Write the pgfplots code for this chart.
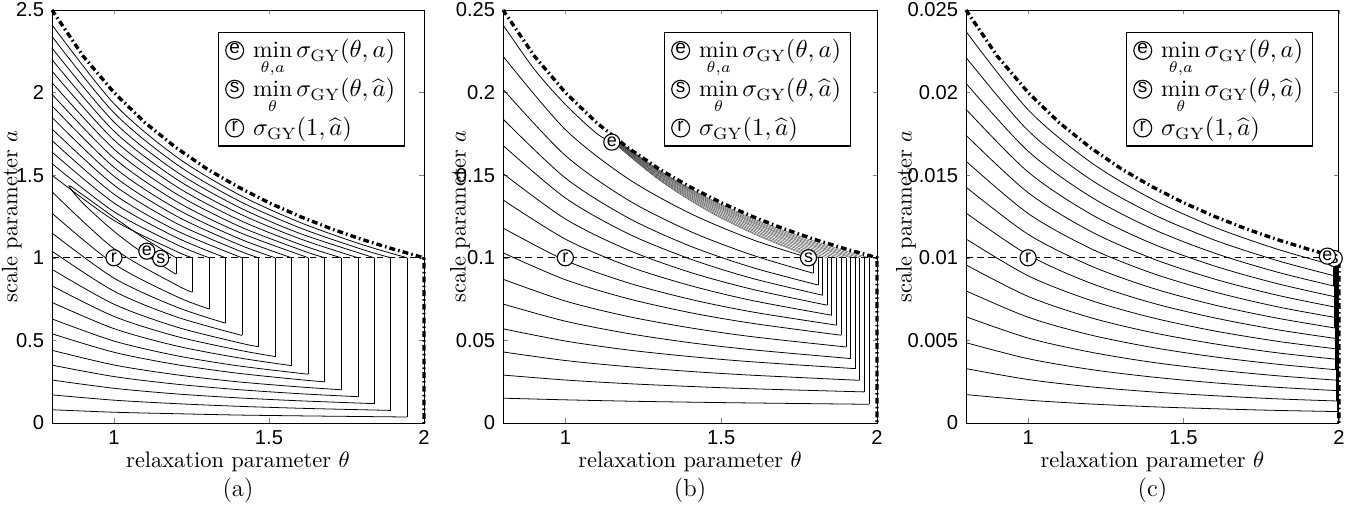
\documentclass[border=0pt]{standalone}
\usepackage{fontspec}
\newfontfamily\hv{Liberation Sans}
\usepackage{pgfplots}
\pgfplotsset{compat=1.18}
\usetikzlibrary{plotmarks}

\pgfplotsset{
  panel/.style={
    scale only axis, height=184.4pt,
    xmin=0.8, xmax=2, ymin=0,
    xtick={1,1.5,2},
    tick align=inside, major tick length=2pt,
    scaled ticks=false,
    /pgf/number format/fixed, /pgf/number format/precision=3,
    /pgf/number format/assume math mode=true,
    tick label style={font=\hv\fontsize{9}{9}\selectfont},
    xlabel={relaxation parameter $\theta$},
    ylabel={scale parameter $a$},
    label style={font=\fontsize{10}{12}\selectfont},
    xlabel style={at={(axis description cs:0.5,0)}, anchor=center, yshift=-17.4pt},
    clip=false,
    axis line style={line width=0.4pt},
    legend style={anchor=north west, draw=black, line width=0.5pt, fill=white,
      font=\fontsize{10.5}{12}\selectfont, row sep=3.6pt, inner xsep=2pt, inner ysep=1.2pt},
    legend cell align=left,
  },
  ct/.style={black, smooth, line width=0.35pt, forget plot},
  fan/.style={black!85, smooth, line width=0.15pt, forget plot},
  vt/.style={black, line width=0.35pt, unbounded coords=jump, forget plot},
  bd/.style={black, line width=1.5pt, dash pattern=on 2.6pt off 1.4pt on 0.7pt off 1.4pt, forget plot},
  hl/.style={black, line width=0.45pt, dash pattern=on 3pt off 2pt, forget plot},
  mk/.style={only marks, mark=*, mark size=3.6pt, mark options={fill=white, draw=black, line width=0.5pt}, forget plot},
  lt/.style={only marks, mark=text, text mark={\hv\fontsize{8}{8}\selectfont #1}, forget plot},
  li/.style={legend image code/.code={
      \path (0pt,0) (11pt,0);
      \draw[fill=white, line width=0.5pt] (5pt,0) circle (4pt);
      \node[font=\hv\fontsize{8.5}{8.5}\selectfont, inner sep=0pt, anchor=center] at (5pt,0) {#1};}},
}

\begin{document}
\begin{tikzpicture}
\useasboundingbox (0,0) rectangle (605pt,227.7pt);

% ---------------- (a)
\begin{axis}[panel, at={(23.2pt,38.85pt)}, anchor=south west, width=166.1pt,
  ymax=2.5, ytick={0,0.5,1,1.5,2,2.5},
  ylabel style={at={(axis description cs:-0.108,0.5)}, anchor=center},
  legend style={at={(0.446,0.947)}}]
% lower branches
\addplot[ct] coordinates {(0.8,1.40)(1.0,1.055)(1.2,0.837)(1.253,0.792)};
\addplot[ct] coordinates {(0.8,1.27)(1.0,0.963)(1.2,0.767)(1.307,0.690)};
\addplot[ct] coordinates {(0.8,1.15)(1.0,0.877)(1.2,0.703)(1.36,0.604)};
\addplot[ct] coordinates {(0.8,1.04)(1.0,0.798)(1.2,0.643)(1.413,0.530)};
\addplot[ct] coordinates {(0.8,0.93)(1.0,0.719)(1.2,0.582)(1.4,0.487)(1.467,0.461)};
\addplot[ct] coordinates {(0.8,0.83)(1.0,0.645)(1.2,0.525)(1.4,0.442)(1.52,0.402)};
\addplot[ct] coordinates {(0.8,0.73)(1.0,0.571)(1.2,0.467)(1.4,0.395)(1.573,0.347)};
\addplot[ct] coordinates {(0.8,0.63)(1.0,0.496)(1.2,0.408)(1.4,0.346)(1.627,0.295)};
\addplot[ct] coordinates {(0.8,0.54)(1.0,0.428)(1.2,0.354)(1.4,0.301)(1.6,0.262)(1.68,0.249)};
\addplot[ct] coordinates {(0.8,0.44)(1.0,0.351)(1.2,0.292)(1.4,0.249)(1.6,0.218)(1.733,0.201)};
\addplot[ct] coordinates {(0.8,0.35)(1.0,0.281)(1.2,0.235)(1.4,0.202)(1.6,0.177)(1.787,0.159)};
\addplot[ct] coordinates {(0.8,0.26)(1.0,0.210)(1.2,0.176)(1.4,0.152)(1.6,0.134)(1.84,0.117)};
\addplot[ct] coordinates {(0.8,0.17)(1.0,0.138)(1.2,0.117)(1.4,0.101)(1.6,0.089)(1.8,0.080)(1.893,0.076)};
\addplot[ct] coordinates {(0.8,0.08)(1.0,0.065)(1.2,0.056)(1.4,0.048)(1.6,0.043)(1.8,0.039)(1.946,0.036)};
% upper branches
\addplot[ct] coordinates {(0.8,1.50)(1.0,1.226)(1.2,1.040)(1.253,1.0)};
\addplot[ct] coordinates {(0.8,1.57)(1.0,1.279)(1.2,1.082)(1.307,1.0)};
\addplot[ct] coordinates {(0.8,1.64)(1.0,1.332)(1.2,1.124)(1.36,1.0)};
\addplot[ct] coordinates {(0.8,1.71)(1.0,1.385)(1.2,1.166)(1.413,1.0)};
\addplot[ct] coordinates {(0.8,1.78)(1.0,1.440)(1.2,1.210)(1.4,1.045)(1.467,1.0)};
\addplot[ct] coordinates {(0.8,1.85)(1.0,1.494)(1.2,1.254)(1.4,1.082)(1.52,1.0)};
\addplot[ct] coordinates {(0.8,1.92)(1.0,1.548)(1.2,1.298)(1.4,1.119)(1.573,1.0)};
\addplot[ct] coordinates {(0.8,1.99)(1.0,1.603)(1.2,1.343)(1.4,1.157)(1.627,1.0)};
\addplot[ct] coordinates {(0.8,2.06)(1.0,1.658)(1.2,1.388)(1.4,1.194)(1.6,1.049)(1.68,1.0)};
\addplot[ct] coordinates {(0.8,2.13)(1.0,1.713)(1.2,1.433)(1.4,1.232)(1.6,1.081)(1.733,1.0)};
\addplot[ct] coordinates {(0.8,2.20)(1.0,1.767)(1.2,1.478)(1.4,1.271)(1.6,1.115)(1.787,1.0)};
\addplot[ct] coordinates {(0.8,2.27)(1.0,1.822)(1.2,1.523)(1.4,1.309)(1.6,1.147)(1.84,1.0)};
\addplot[ct] coordinates {(0.8,2.34)(1.0,1.878)(1.2,1.568)(1.4,1.347)(1.6,1.181)(1.8,1.051)(1.893,1.0)};
\addplot[ct] coordinates {(0.8,2.41)(1.0,1.933)(1.2,1.613)(1.4,1.385)(1.6,1.214)(1.8,1.080)(1.946,1.0)};
% innermost contour
\addplot[ct] coordinates {(1.2,0.90)(1.1,1.02)(1.0,1.16)(0.9,1.33)(0.855,1.435)(0.9,1.38)(1.0,1.245)(1.1,1.115)(1.2,1.0)};
% vertical parts
\addplot[vt] coordinates {
(1.2,0.9)(1.2,1)(1.2,nan)
(1.253,0.792)(1.253,1)(1.253,nan)
(1.307,0.690)(1.307,1)(1.307,nan)
(1.36,0.604)(1.36,1)(1.36,nan)
(1.413,0.530)(1.413,1)(1.413,nan)
(1.467,0.461)(1.467,1)(1.467,nan)
(1.52,0.402)(1.52,1)(1.52,nan)
(1.573,0.347)(1.573,1)(1.573,nan)
(1.627,0.295)(1.627,1)(1.627,nan)
(1.68,0.249)(1.68,1)(1.68,nan)
(1.733,0.201)(1.733,1)(1.733,nan)
(1.787,0.159)(1.787,1)(1.787,nan)
(1.84,0.117)(1.84,1)(1.84,nan)
(1.893,0.076)(1.893,1)(1.893,nan)
(1.946,0.036)(1.946,1)};
\addplot[hl] coordinates {(0.8,1)(2,1)};
\addplot[bd] coordinates {(0.8,2.5)(0.9,2.222)(1.0,2.0)(1.1,1.818)(1.2,1.667)(1.3,1.538)(1.4,1.429)(1.5,1.333)(1.6,1.25)(1.7,1.176)(1.8,1.111)(1.9,1.053)(2.0,1.0)(2.0,0)};
\addplot[mk] coordinates {(1.0,1.0)};
\addplot[lt=r] coordinates {(1.0,1.0)};
\addplot[mk] coordinates {(1.151,0.996)};
\addplot[lt=s] coordinates {(1.151,0.996)};
\addplot[mk] coordinates {(1.106,1.04)};
\addplot[lt=e] coordinates {(1.106,1.04)};
\addlegendimage{li=e}
\addlegendentry{$\displaystyle\min_{\theta,a}\sigma_{\mathrm{GY}}(\theta,a)$}
\addlegendimage{li=s}
\addlegendentry{$\displaystyle\min_{\theta}\sigma_{\mathrm{GY}}(\theta,\widehat{a})$}
\addlegendimage{li=r}
\addlegendentry{$\sigma_{\mathrm{GY}}(1,\widehat{a})$}
\node[font=\fontsize{11}{13}\selectfont, yshift=-30pt] at (rel axis cs:0.5,0) {(a)};
\end{axis}

% ---------------- (b)
\begin{axis}[panel, at={(224.6pt,38.85pt)}, anchor=south west, width=167pt,
  ymax=0.25, ytick={0,0.05,0.1,0.15,0.2,0.25},
  ylabel style={at={(axis description cs:-0.115,0.5)}, anchor=center},
  legend style={at={(0.43,0.947)}}]
\addplot[ct] coordinates {(0.8,0.241)(0.9,0.2142)(1.0,0.1928)(1.1,0.1753)(1.15,0.170)};
\addplot[ct] coordinates {(0.8,0.222)(1.0,0.1776)(1.2,0.148)(1.4,0.1269)(1.6,0.111)(1.78,0.1)};
\addplot[ct] coordinates {(0.8,0.202)(1.0,0.1619)(1.2,0.1351)(1.4,0.1160)(1.6,0.1016)(1.796,0.0906)};
\addplot[ct] coordinates {(0.8,0.184)(1.0,0.1483)(1.2,0.1243)(1.4,0.1071)(1.6,0.0941)(1.811,0.0835)};
\addplot[ct] coordinates {(0.8,0.168)(1.0,0.1362)(1.2,0.1147)(1.4,0.0993)(1.6,0.0875)(1.826,0.0773)};
\addplot[ct] coordinates {(0.8,0.151)(1.0,0.1235)(1.2,0.1048)(1.4,0.0912)(1.6,0.0809)(1.84,0.0713)};
\addplot[ct] coordinates {(0.8,0.135)(1.0,0.1113)(1.2,0.0950)(1.4,0.0832)(1.6,0.0741)(1.855,0.0652)};
\addplot[ct] coordinates {(0.8,0.118)(1.0,0.0984)(1.2,0.0849)(1.4,0.0749)(1.6,0.0672)(1.87,0.0592)};
\addplot[ct] coordinates {(0.8,0.103)(1.0,0.0867)(1.2,0.0753)(1.4,0.0668)(1.6,0.0603)(1.885,0.0531)};
\addplot[ct] coordinates {(0.8,0.087)(1.0,0.0738)(1.2,0.0645)(1.4,0.0576)(1.6,0.0522)(1.9,0.046)};
\addplot[ct] coordinates {(0.8,0.072)(1.0,0.0616)(1.2,0.0542)(1.4,0.0486)(1.6,0.0443)(1.915,0.039)};
\addplot[ct] coordinates {(0.8,0.057)(1.0,0.0496)(1.2,0.0442)(1.4,0.0402)(1.6,0.0370)(1.929,0.0329)};
\addplot[ct] coordinates {(0.8,0.043)(1.0,0.0378)(1.2,0.0341)(1.4,0.0312)(1.6,0.0289)(1.944,0.0258)};
\addplot[ct] coordinates {(0.8,0.029)(1.0,0.0260)(1.2,0.0238)(1.4,0.0221)(1.6,0.0207)(1.959,0.0188)};
\addplot[ct] coordinates {(0.8,0.015)(1.0,0.0140)(1.2,0.0132)(1.4,0.0126)(1.6,0.0121)(1.974,0.0113)};
% dense band under the bound
\addplot[fan] coordinates {(1.15,0.1703)(1.3,0.1472)(1.45,0.1291)(1.6,0.1148)(1.75,0.1032)(1.796,0.1)};
\addplot[fan] coordinates {(1.15,0.1706)(1.3,0.1476)(1.45,0.1297)(1.6,0.1154)(1.75,0.1039)(1.811,0.1)};
\addplot[fan] coordinates {(1.15,0.1709)(1.3,0.1482)(1.45,0.1305)(1.6,0.1163)(1.75,0.1049)(1.826,0.1)};
\addplot[fan] coordinates {(1.15,0.1712)(1.3,0.1487)(1.45,0.1312)(1.6,0.1171)(1.75,0.1057)(1.84,0.1)};
\addplot[fan] coordinates {(1.15,0.1715)(1.3,0.1493)(1.45,0.1319)(1.6,0.1180)(1.75,0.1067)(1.855,0.1)};
\addplot[fan] coordinates {(1.15,0.1718)(1.3,0.1498)(1.45,0.1326)(1.6,0.1189)(1.75,0.1076)(1.87,0.1)};
\addplot[fan] coordinates {(1.15,0.1720)(1.3,0.1503)(1.45,0.1333)(1.6,0.1196)(1.75,0.1084)(1.885,0.1)};
\addplot[fan] coordinates {(1.15,0.1723)(1.3,0.1509)(1.45,0.1340)(1.6,0.1204)(1.75,0.1093)(1.9,0.1)};
\addplot[fan] coordinates {(1.15,0.1726)(1.3,0.1514)(1.45,0.1346)(1.6,0.1212)(1.75,0.1101)(1.9,0.1009)(1.915,0.1)};
\addplot[fan] coordinates {(1.15,0.1728)(1.3,0.1518)(1.45,0.1352)(1.6,0.1218)(1.75,0.1108)(1.9,0.1016)(1.929,0.1)};
\addplot[fan] coordinates {(1.15,0.1730)(1.3,0.1523)(1.45,0.1358)(1.6,0.1225)(1.75,0.1116)(1.9,0.1024)(1.944,0.1)};
\addplot[fan] coordinates {(1.15,0.1733)(1.3,0.1527)(1.45,0.1364)(1.6,0.1232)(1.75,0.1123)(1.9,0.1032)(1.959,0.1)};
\addplot[fan] coordinates {(1.15,0.1735)(1.3,0.1532)(1.45,0.1369)(1.6,0.1239)(1.75,0.1131)(1.9,0.1040)(1.974,0.1)};
\addplot[vt] coordinates {
(1.796,0.0906)(1.796,0.1)(1.796,nan)
(1.811,0.0835)(1.811,0.1)(1.811,nan)
(1.826,0.0773)(1.826,0.1)(1.826,nan)
(1.84,0.0713)(1.84,0.1)(1.84,nan)
(1.855,0.0652)(1.855,0.1)(1.855,nan)
(1.87,0.0592)(1.87,0.1)(1.87,nan)
(1.885,0.0531)(1.885,0.1)(1.885,nan)
(1.9,0.046)(1.9,0.1)(1.9,nan)
(1.915,0.039)(1.915,0.1)(1.915,nan)
(1.929,0.0329)(1.929,0.1)(1.929,nan)
(1.944,0.0258)(1.944,0.1)(1.944,nan)
(1.959,0.0188)(1.959,0.1)(1.959,nan)
(1.974,0.0113)(1.974,0.1)};
\addplot[hl] coordinates {(0.8,0.1)(2,0.1)};
\addplot[bd] coordinates {(0.8,0.25)(0.9,0.2222)(1.0,0.2)(1.1,0.1818)(1.2,0.1667)(1.3,0.1538)(1.4,0.1429)(1.5,0.1333)(1.6,0.125)(1.7,0.1176)(1.8,0.1111)(1.9,0.1053)(2.0,0.1)(2.0,0)};
\addplot[mk] coordinates {(1.0,0.1)};
\addplot[lt=r] coordinates {(1.0,0.1)};
\addplot[mk] coordinates {(1.78,0.1)};
\addplot[lt=s] coordinates {(1.78,0.1)};
\addplot[mk] coordinates {(1.149,0.170)};
\addplot[lt=e] coordinates {(1.149,0.170)};
\addlegendimage{li=e}
\addlegendentry{$\displaystyle\min_{\theta,a}\sigma_{\mathrm{GY}}(\theta,a)$}
\addlegendimage{li=s}
\addlegendentry{$\displaystyle\min_{\theta}\sigma_{\mathrm{GY}}(\theta,\widehat{a})$}
\addlegendimage{li=r}
\addlegendentry{$\sigma_{\mathrm{GY}}(1,\widehat{a})$}
\node[font=\fontsize{11}{13}\selectfont, yshift=-30pt] at (rel axis cs:0.5,0) {(b)};
\end{axis}

% ---------------- (c)
\begin{axis}[panel, at={(431.3pt,38.85pt)}, anchor=south west, width=166.5pt,
  ymax=0.025, ytick={0,0.005,0.01,0.015,0.02,0.025},
  ylabel style={at={(axis description cs:-0.161,0.5)}, anchor=center},
  legend style={at={(0.429,0.947)}}]
\addplot[ct] coordinates {(0.8,0.02370)(1.0,0.01896)(1.2,0.01580)(1.4,0.01354)(1.6,0.01185)(1.8,0.01053)(1.982,0.00955)};
\addplot[ct] coordinates {(0.8,0.02213)(1.0,0.01770)(1.2,0.01475)(1.4,0.01265)(1.6,0.01107)(1.8,0.00984)(1.983,0.00892)};
\addplot[ct] coordinates {(0.8,0.02056)(1.0,0.01645)(1.2,0.01371)(1.4,0.01175)(1.6,0.01028)(1.8,0.00914)(1.984,0.00829)};
\addplot[ct] coordinates {(0.8,0.01899)(1.0,0.01519)(1.2,0.01266)(1.4,0.01085)(1.6,0.00950)(1.8,0.00844)(1.985,0.00765)};
\addplot[ct] coordinates {(0.8,0.01742)(1.0,0.01394)(1.2,0.01161)(1.4,0.00995)(1.6,0.00871)(1.8,0.00774)(1.986,0.00702)};
\addplot[ct] coordinates {(0.8,0.01585)(1.0,0.01268)(1.2,0.01057)(1.4,0.00906)(1.6,0.00793)(1.8,0.00704)(1.987,0.00639)};
\addplot[ct] coordinates {(0.8,0.01428)(1.0,0.01142)(1.2,0.00952)(1.4,0.00816)(1.6,0.00714)(1.8,0.00635)(1.987,0.00575)};
\addplot[ct] coordinates {(0.8,0.01271)(1.0,0.01017)(1.2,0.00847)(1.4,0.00726)(1.6,0.00636)(1.8,0.00565)(1.988,0.00512)};
\addplot[ct] coordinates {(0.8,0.01114)(1.0,0.00891)(1.2,0.00743)(1.4,0.00637)(1.6,0.00557)(1.8,0.00495)(1.989,0.00449)};
\addplot[ct] coordinates {(0.8,0.00957)(1.0,0.00766)(1.2,0.00638)(1.4,0.00547)(1.6,0.00479)(1.8,0.00425)(1.990,0.00386)};
\addplot[ct] coordinates {(0.8,0.00800)(1.0,0.00640)(1.2,0.00533)(1.4,0.00457)(1.6,0.00400)(1.8,0.00356)(1.991,0.00322)};
\addplot[ct] coordinates {(0.8,0.00643)(1.0,0.00514)(1.2,0.00429)(1.4,0.00367)(1.6,0.00322)(1.8,0.00286)(1.992,0.00259)};
\addplot[ct] coordinates {(0.8,0.00486)(1.0,0.00389)(1.2,0.00324)(1.4,0.00278)(1.6,0.00243)(1.8,0.00216)(1.993,0.00196)};
\addplot[ct] coordinates {(0.8,0.00329)(1.0,0.00263)(1.2,0.00219)(1.4,0.00188)(1.6,0.00165)(1.8,0.00146)(1.994,0.00133)};
\addplot[ct] coordinates {(0.8,0.00172)(1.0,0.00138)(1.2,0.00115)(1.4,0.00098)(1.6,0.00086)(1.8,0.00076)(1.995,0.00069)};
\addplot[vt, line width=0.55pt] coordinates {
(1.982,0.00955)(1.982,0.01)(1.982,nan)
(1.983,0.00892)(1.983,0.01)(1.983,nan)
(1.984,0.00829)(1.984,0.01)(1.984,nan)
(1.985,0.00765)(1.985,0.01)(1.985,nan)
(1.986,0.00702)(1.986,0.01)(1.986,nan)
(1.987,0.00639)(1.987,0.01)(1.987,nan)
(1.9875,0.00575)(1.9875,0.01)(1.9875,nan)
(1.988,0.00512)(1.988,0.01)(1.988,nan)
(1.989,0.00449)(1.989,0.01)(1.989,nan)
(1.990,0.00386)(1.990,0.01)(1.990,nan)
(1.991,0.00322)(1.991,0.01)(1.991,nan)
(1.992,0.00259)(1.992,0.01)(1.992,nan)
(1.993,0.00196)(1.993,0.01)(1.993,nan)
(1.994,0.00133)(1.994,0.01)(1.994,nan)
(1.995,0.00069)(1.995,0.01)};
\addplot[hl] coordinates {(0.8,0.01)(2,0.01)};
\addplot[bd] coordinates {(0.8,0.025)(0.9,0.02222)(1.0,0.02)(1.1,0.01818)(1.2,0.01667)(1.3,0.01538)(1.4,0.01429)(1.5,0.01333)(1.6,0.0125)(1.7,0.01176)(1.8,0.01111)(1.9,0.01053)(2.0,0.01)(2.0,0)};
\addplot[mk] coordinates {(1.0,0.01)};
\addplot[lt=r] coordinates {(1.0,0.01)};
\addplot[mk] coordinates {(1.985,0.00996)};
\addplot[lt=s] coordinates {(1.985,0.00996)};
\addplot[mk] coordinates {(1.963,0.0101)};
\addplot[lt=e] coordinates {(1.963,0.0101)};
\addlegendimage{li=e}
\addlegendentry{$\displaystyle\min_{\theta,a}\sigma_{\mathrm{GY}}(\theta,a)$}
\addlegendimage{li=s}
\addlegendentry{$\displaystyle\min_{\theta}\sigma_{\mathrm{GY}}(\theta,\widehat{a})$}
\addlegendimage{li=r}
\addlegendentry{$\sigma_{\mathrm{GY}}(1,\widehat{a})$}
\node[font=\fontsize{11}{13}\selectfont, yshift=-30pt] at (rel axis cs:0.5,0) {(c)};
\end{axis}
\end{tikzpicture}
\end{document}
